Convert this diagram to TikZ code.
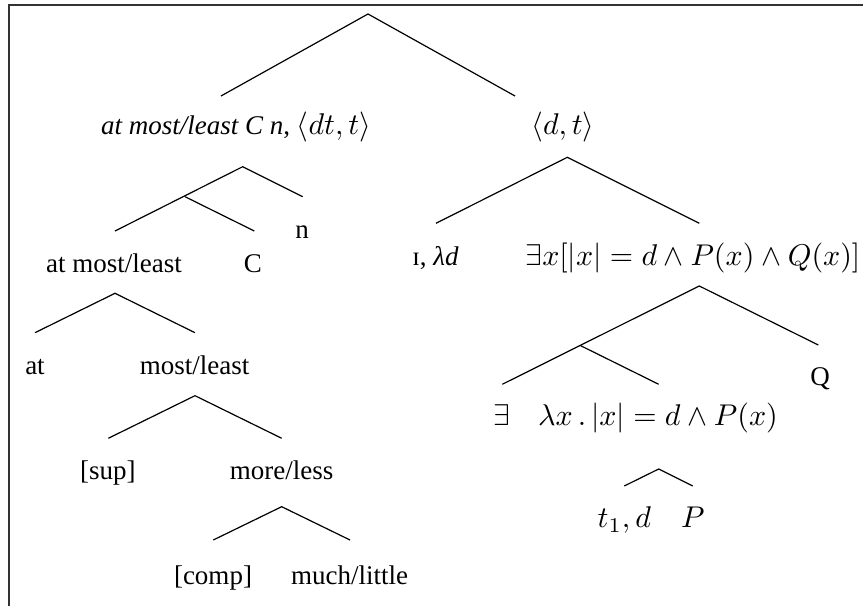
\documentclass[tikz,border=0pt]{standalone}
\usepackage{fontspec}
\setmainfont{Liberation Serif}[Scale=0.9]
\begin{document}
\begin{tikzpicture}[x={(0.33333pt,0)},y={(0,-0.33333pt)},
  lbl/.style={anchor=base,inner sep=0pt,outer sep=0pt},
  edge/.style={line width=0.4pt,black},
  frame/.style={line width=0.6pt,black!80}]
\useasboundingbox (0,0) rectangle (863,606);
\draw[frame] (9,606) -- (9,5) -- (863,5);
% coordinates for branch points
\coordinate (r0) at (368,14);
\coordinate (r0l) at (221,96);
\coordinate (r0r) at (515,96);
\coordinate (a0) at (242.7,166.7);
\coordinate (a0r) at (302.7,196.7);
\coordinate (a0l) at (115,231);
\coordinate (a1) at (185,196.7);
\coordinate (a1r) at (254.3,231);
\coordinate (b0) at (567.3,157.3);
\coordinate (b0l) at (436,223.3);
\coordinate (b0r) at (699.3,223.3);
\coordinate (c0) at (699.3,286);
\coordinate (c0r) at (818.3,345);
\coordinate (c0l) at (502.3,384.3);
\coordinate (c1) at (580.7,345.7);
\coordinate (c1r) at (658.7,384.3);
\coordinate (d0) at (658.7,469);
\coordinate (d0l) at (624.3,486);
\coordinate (d0r) at (692.7,486);
\coordinate (e0) at (115,293.3);
\coordinate (e0l) at (35,332.7);
\coordinate (e0r) at (195,332.7);
\coordinate (f0) at (195,395.7);
\coordinate (f0l) at (108.3,438.3);
\coordinate (f0r) at (281.7,438.3);
\coordinate (g0) at (281.7,506.7);
\coordinate (g0l) at (213.3,540);
\coordinate (g0r) at (350,540);
% labels
\node[lbl] (lq) at (236,135) {\textit{at most/least C n}, $\langle dt, t\rangle$};
\node[lbl] (dt) at (563,135) {$\langle d, t\rangle$};
\node[lbl] (n) at (302,239) {n};
\node[lbl] (aml) at (114,273) {at most/least};
\node[lbl] (C) at (253,273) {C};
\node[lbl] (iota) at (435.5,266) {ɪ, \textit{λd}};
\node[lbl] (ex) at (693,266) {$\exists x[|x| = d \wedge P(x) \wedge Q(x)]$};
\node[lbl] (Q) at (820,386) {$\mathrm{Q}$};
\node[lbl] (E) at (501.7,426) {$\exists$};
\node[lbl] (lam) at (658,426) {$\lambda x\,.\,|x| = d \wedge P(x)$};
\node[lbl] (td) at (624.3,528) {$t_1, d$};
\node[lbl] (P) at (692.8,528) {$P$};
\node[lbl] (at) at (35,375) {at};
\node[lbl] (ml) at (194.7,375) {most/least};
\node[lbl] (sup) at (107.8,480) {[sup]};
\node[lbl] (ml2) at (281.7,480) {more/less};
\node[lbl] (comp) at (213,585) {[comp]};
\node[lbl] (ml3) at (349.7,585) {much/little};
% edges
\draw[edge] (r0l) -- (r0) -- (r0r);
\draw[edge] (a0l) -- (a0) -- (a0r);
\draw[edge] (a1) -- (a1r);
\draw[edge] (b0l) -- (b0) -- (b0r);
\draw[edge] (c0l) -- (c0) -- (c0r);
\draw[edge] (c1) -- (c1r);
\draw[edge] (d0l) -- (d0) -- (d0r);
\draw[edge] (e0l) -- (e0) -- (e0r);
\draw[edge] (f0l) -- (f0) -- (f0r);
\draw[edge] (g0l) -- (g0) -- (g0r);
\end{tikzpicture}
\end{document}
